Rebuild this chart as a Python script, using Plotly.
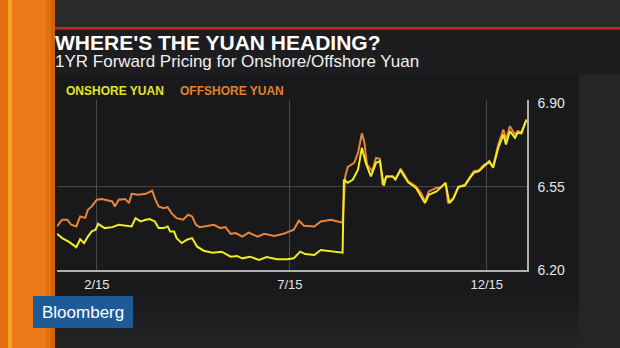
import pandas as pd
import plotly.graph_objects as go

# ---- data (day offsets from 2015-01-01, forward prices) ----
offshore_days = [0, 4, 8, 11, 15, 18, 22, 24, 27, 31, 35, 43, 45, 48, 53, 56, 58, 63, 69, 74,
                 76, 79, 83, 86, 89, 93, 98, 102, 105, 108, 111, 117, 122, 127, 131, 135, 139, 144, 149, 156,
                 161, 169, 176, 184, 188, 192, 200, 205, 213, 222, 224, 226, 231, 234, 237, 239, 241, 245, 248, 251,
                 253, 256, 261, 263, 267, 270, 273, 279, 283, 286, 289, 295, 298, 302, 304, 308, 312, 317, 321, 324,
                 328, 332, 336, 339, 343, 347, 349, 352, 356, 358, 361, 364, 365]
offshore_vals = [6.383, 6.411, 6.411, 6.390, 6.383, 6.425, 6.419, 6.453, 6.467, 6.495, 6.498, 6.488, 6.467, 6.495, 6.498, 6.481, 6.520, 6.516, 6.520, 6.533,
                 6.502, 6.467, 6.460, 6.464, 6.439, 6.418, 6.411, 6.432, 6.425, 6.390, 6.380, 6.386, 6.390, 6.376, 6.380, 6.352, 6.355, 6.340, 6.357, 6.340,
                 6.352, 6.343, 6.352, 6.369, 6.407, 6.386, 6.383, 6.404, 6.411, 6.399, 6.593, 6.633, 6.650, 6.692, 6.774, 6.734, 6.643, 6.615, 6.671, 6.667,
                 6.558, 6.593, 6.593, 6.580, 6.625, 6.601, 6.572, 6.551, 6.523, 6.488, 6.530, 6.545, 6.545, 6.566, 6.481, 6.502, 6.549, 6.558, 6.593, 6.615,
                 6.619, 6.643, 6.650, 6.636, 6.727, 6.790, 6.748, 6.804, 6.769, 6.783, 6.779, 6.825, 6.833]

onshore_days = [0, 4, 9, 13, 15, 18, 21, 24, 27, 30, 32, 37, 43, 48, 54, 58, 61, 65, 69, 72,
                76, 79, 83, 86, 88, 91, 93, 97, 101, 105, 109, 114, 121, 128, 135, 140, 144, 150, 157, 163,
                171, 179, 184, 189, 193, 200, 205, 213, 222, 223, 226, 230, 234, 237, 240, 244, 248, 251, 254, 256,
                261, 263, 267, 270, 273, 279, 283, 286, 289, 295, 298, 302, 305, 308, 312, 317, 321, 324, 328, 332,
                336, 339, 343, 347, 349, 352, 356, 358, 361, 364, 365]
onshore_vals = [6.352, 6.334, 6.319, 6.305, 6.296, 6.329, 6.313, 6.340, 6.362, 6.369, 6.394, 6.376, 6.380, 6.390, 6.386, 6.383, 6.418, 6.404, 6.411, 6.414,
                6.404, 6.376, 6.376, 6.383, 6.362, 6.362, 6.334, 6.313, 6.327, 6.334, 6.298, 6.281, 6.273, 6.277, 6.256, 6.259, 6.249, 6.256, 6.242, 6.254,
                6.245, 6.245, 6.249, 6.277, 6.267, 6.263, 6.284, 6.280, 6.273, 6.580, 6.566, 6.580, 6.622, 6.713, 6.650, 6.593, 6.650, 6.657, 6.554, 6.593,
                6.593, 6.580, 6.619, 6.593, 6.568, 6.545, 6.509, 6.481, 6.516, 6.530, 6.545, 6.566, 6.481, 6.498, 6.549, 6.554, 6.587, 6.608, 6.615, 6.636,
                6.657, 6.629, 6.713, 6.769, 6.727, 6.783, 6.755, 6.776, 6.774, 6.819, 6.830]

x_tick_dates = ["2015-02-01", "2015-07-01", "2015-12-01"]
x_tick_labels = ["2/15", "7/15", "12/15"]
y_tick_vals = [6.20, 6.55, 6.90]
y_tick_labels = ["6.20", "6.55", "6.90"]

base = pd.Timestamp("2015-01-01")
offshore_dates = base + pd.to_timedelta(offshore_days, unit="D")
onshore_dates = base + pd.to_timedelta(onshore_days, unit="D")

W, H = 620, 348
L, R, T, B = 57, 93, 100, 78
PW, PH = W - L - R, H - T - B
FONT = "Liberation Sans, Arial, sans-serif"

def px(x):
    return (x - L) / PW

def py(y):
    return (H - B - y) / PH

fig = go.Figure()
fig.add_trace(go.Scatter(x=offshore_dates, y=offshore_vals, mode="lines",
                         line=dict(color="#e8853a", width=2), name="OFFSHORE YUAN"))
fig.add_trace(go.Scatter(x=onshore_dates, y=onshore_vals, mode="lines",
                         line=dict(color="#eeee22", width=2), name="ONSHORE YUAN"))

shapes = []
def rect(x0, y0, x1, y1, color):
    shapes.append(dict(type="rect", xref="paper", yref="paper",
                       x0=px(x0), x1=px(x1), y0=py(y1), y1=py(y0),
                       fillcolor=color, line=dict(width=0), layer="below"))

# background pieces
rect(0, 0, 620, 27, "#2a2a2b")
rect(579, 75, 620, 348, "#252526")
rect(55, 75, 579, 290, "#19191b")
# soft fade of the chart panel toward the bottom
for (y0, y1, c) in [(290, 300, "#1a1a1c"), (300, 310, "#1c1c1e"), (310, 320, "#1e1e20"),
                    (320, 330, "#202022"), (330, 340, "#222224"), (340, 348, "#242426")]:
    rect(55, y0, 579, y1, c)
rect(53, 29, 620, 75, "#1d1d1f")
rect(53, 27, 620, 29.5, "#c42a22")
# orange left strip
rect(0, 0, 55, 348, "#ec7a18")
rect(0, 0, 8, 348, "#e86e12")
rect(8, 0, 12, 348, "#f2a51e")
rect(46, 0, 51, 348, "#e2700f")
rect(51, 0, 55, 348, "#d2620c")
# Bloomberg logo box
rect(33, 296, 133, 328, "#1f5a98")

# gridline at 6.55
shapes.append(dict(type="line", xref="paper", yref="y", x0=0, x1=1, y0=6.55, y1=6.55,
                   line=dict(color="#4a4a4c", width=1), layer="below"))

fig.update_layout(
    width=W, height=H,
    margin=dict(l=L, r=R, t=T, b=B),
    paper_bgcolor="#262627",
    plot_bgcolor="rgba(0,0,0,0)",
    showlegend=False,
    shapes=shapes,
    font=dict(family=FONT, color="#e6e6e6"),
    xaxis=dict(range=["2015-01-01", "2016-01-01 08:00"], tickvals=x_tick_dates, ticktext=x_tick_labels,
               showgrid=True, gridcolor="#4a4a4c", gridwidth=1, zeroline=False,
               showline=True, linecolor="#b0b0b0", linewidth=1.5, ticks="",
               tickfont=dict(size=13, color="#e6e6e6", family=FONT), ticklabelstandoff=2),
    yaxis=dict(range=[6.20, 6.914], side="right", tickvals=y_tick_vals, ticktext=y_tick_labels,
               showgrid=False, zeroline=False, showline=True, linecolor="#b0b0b0", linewidth=1.5,
               ticks="", tickfont=dict(size=14, color="#e6e6e6", family=FONT), ticklabelstandoff=6),
)

ann = []
def text(x, y, s, size, color, bold=False, anchor="left"):
    ann.append(dict(xref="paper", yref="paper", x=px(x), y=py(y), text=("<b>%s</b>" % s) if bold else s,
                    showarrow=False, xanchor=anchor, yanchor="middle",
                    font=dict(size=size, color=color, family=FONT)))

text(53, 42, "WHERE'S THE YUAN HEADING?", 21, "#ffffff", bold=True)
text(53, 62, "1YR Forward Pricing for Onshore/Offshore Yuan", 17, "#f0f0f0")
text(64, 91, "ONSHORE YUAN", 12, "#e4e42a", bold=True)
text(178, 91, "OFFSHORE YUAN", 12, "#e0822e", bold=True)
text(83, 312, "Bloomberg", 17, "#ffffff", anchor="center")
fig.update_layout(annotations=ann)

fig.write_html("out.html")
